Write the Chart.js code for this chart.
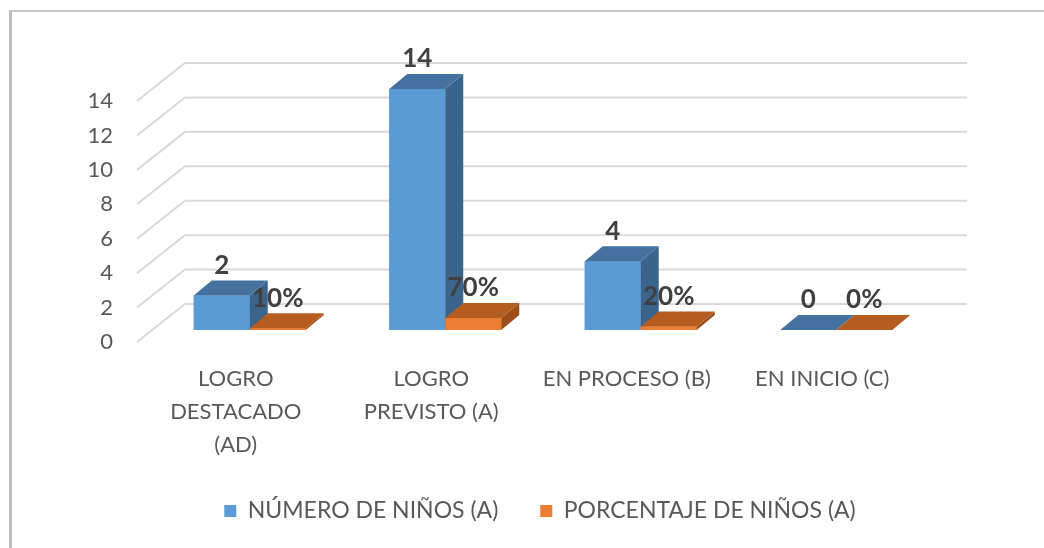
<!DOCTYPE html>
<html>
<head>
<meta charset="utf-8">
<script src="https://cdn.jsdelivr.net/npm/chart.js@4.4.1/dist/chart.umd.min.js"></script>
<style>
  html, body { margin: 0; padding: 0; background: #fff; overflow: hidden; }
  #frame {
    position: absolute; left: 9px; top: 10px; width: 1100px; height: 600px;
    border-left: 3px solid #bdbdbd; border-top: 2px solid #c6c6c6;
  }
  #wrap { position: absolute; left: 0; top: 0; width: 1044px; height: 548px; }
</style>
</head>
<body>
<div id="frame"></div>
<div id="wrap"><canvas id="chart" width="1044" height="548"></canvas></div>
<script>
// ── Data ───────────────────────────────────────────────────
const categories = [
  ['LOGRO', 'DESTACADO', '(AD)'],
  ['LOGRO', 'PREVISTO (A)'],
  'EN PROCESO (B)',
  'EN INICIO (C)'
];
const numeroNinos     = [2, 14, 4, 0];
const porcentajeNinos = [0.10, 0.70, 0.20, 0];
const yTicks          = [0, 2, 4, 6, 8, 10, 12, 14];
const seriesNames     = ['NÚMERO DE NIÑOS (A)', 'PORCENTAJE DE NIÑOS (A)'];

// ── 3D look ────────────────────────────────────────────────
const DX = 18, DY = -15;                 // bar depth
const faces = [
  { front: '#5B9BD5', top: '#4472A0', side: '#3A648C' },
  { front: '#ED7D31', top: '#B55D20', side: '#9C4F1A' }
];
const FONT = 'Lato, "Open Sans", sans-serif';

function poly(ctx, pts, color) {
  ctx.beginPath();
  ctx.moveTo(pts[0][0], pts[0][1]);
  for (let k = 1; k < pts.length; k++) ctx.lineTo(pts[k][0], pts[k][1]);
  ctx.closePath();
  ctx.fillStyle = color;
  ctx.fill();
}

const bars3d = {
  id: 'bars3d',
  afterLayout(chart) {
    // legend sits centred under the whole frame, not under the plot
    chart.legend.left += 43;
    chart.legend.right += 43;
  },
  beforeDatasetsDraw(chart) {
    const { ctx, chartArea: a } = chart;
    const y = chart.scales.y;
    ctx.save();
    ctx.strokeStyle = '#d9d9d9';
    ctx.lineWidth = 2;
    yTicks.forEach(v => {
      const p = y.getPixelForValue(v);
      ctx.beginPath();
      ctx.moveTo(a.left - 15, p + 12);
      ctx.lineTo(a.left + 33, p - 26);
      ctx.lineTo(a.right + 33, p - 26);
      ctx.stroke();
    });
    ctx.restore();
  },
  afterDatasetsDraw(chart) {
    const { ctx } = chart;
    ctx.save();
    const n = chart.data.labels.length;
    for (let i = 0; i < n; i++) {
      chart.data.datasets.forEach((ds, d) => {
        const el = chart.getDatasetMeta(d).data[i];
        const { x, y, base, width } = el.getProps(['x', 'y', 'base', 'width'], true);
        const l = x - width / 2, r = x + width / 2;
        const f = faces[d];
        ctx.fillStyle = f.front;
        ctx.fillRect(l, y, r - l, base - y);
        poly(ctx, [[r, y], [r + DX, y + DY], [r + DX, base + DY], [r, base]], f.side);
        poly(ctx, [[l, y], [l + DX, y + DY], [r + DX, y + DY], [r, y]], f.top);
      });
    }
    // data labels
    ctx.font = 'bold 26px ' + FONT;
    ctx.fillStyle = '#404040';
    ctx.textAlign = 'center';
    ctx.textBaseline = 'middle';
    chart.data.datasets.forEach((ds, d) => {
      chart.getDatasetMeta(d).data.forEach((el, i) => {
        const v = ds.data[i];
        const txt = d === 0 ? String(v) : Math.round(v * 100) + '%';
        ctx.fillText(txt, el.x, el.y - 30);
      });
    });
    ctx.restore();
  }
};

new Chart(document.getElementById('chart'), {
  type: 'bar',
  data: {
    labels: categories,
    datasets: [
      { label: seriesNames[0], data: numeroNinos,     backgroundColor: faces[0].front },
      { label: seriesNames[1], data: porcentajeNinos, backgroundColor: faces[1].front }
    ]
  },
  options: {
    responsive: false,
    animation: false,
    devicePixelRatio: 1,
    categoryPercentage: 0.573,
    barPercentage: 1,
    layout: { padding: { left: 60, right: 110, top: 89, bottom: 15.5 } },
    plugins: {
      tooltip: { enabled: false },
      legend: {
        position: 'bottom',
        labels: {
          color: '#595959',
          font: { family: FONT, size: 23 },
          boxWidth: 12,
          boxHeight: 12,
          padding: 42
        }
      }
    },
    scales: {
      x: {
        grid: { display: false, drawTicks: false },
        border: { display: false },
        afterFit: s => { s.height = 127.5; },
        ticks: {
          color: '#595959',
          font: { family: FONT, size: 22, lineHeight: '33px' },
          padding: 32,
          labelOffset: -14,
          maxRotation: 0,
          autoSkip: false
        }
      },
      y: {
        min: 0,
        max: 14,
        grid: { display: false, drawTicks: false },
        border: { display: false },
        afterFit: s => { s.width = 92; },
        ticks: {
          stepSize: 2,
          color: '#595959',
          font: { family: FONT, size: 22 },
          padding: 39,
          labelOffset: 12
        }
      }
    }
  },
  plugins: [bars3d]
});
</script>
</body>
</html>
